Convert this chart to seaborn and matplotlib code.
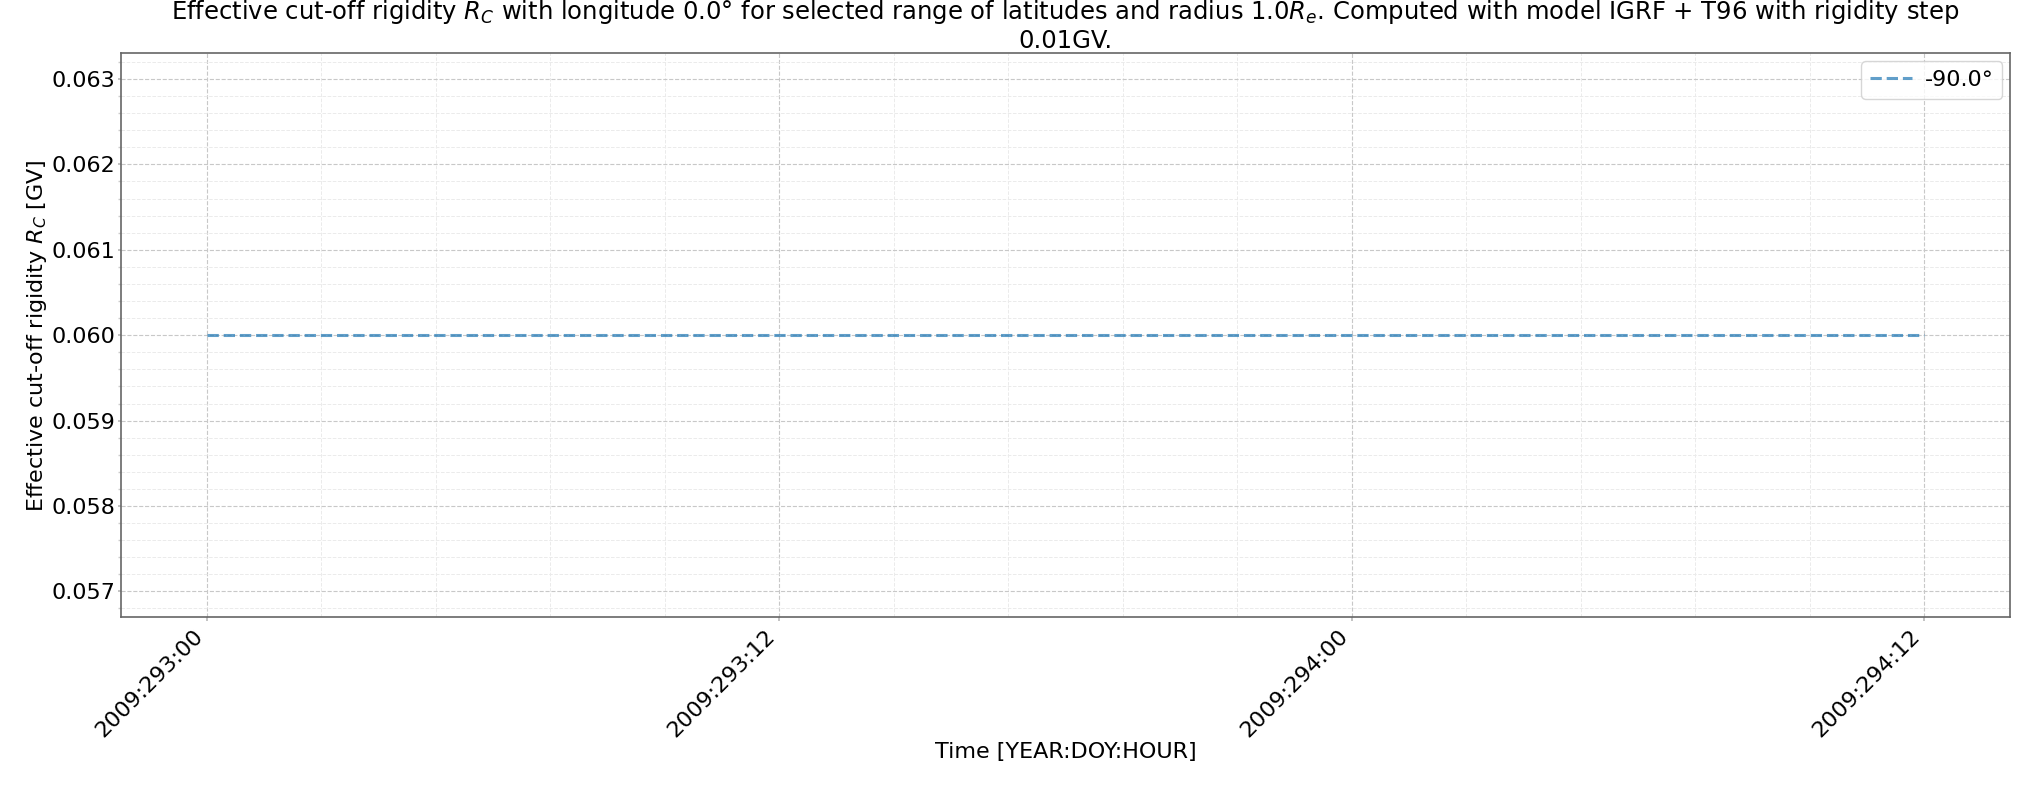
import matplotlib
matplotlib.use("Agg")
import matplotlib.pyplot as plt
import matplotlib.dates as mdates
from matplotlib.ticker import AutoMinorLocator
import seaborn as sns
import pandas as pd

# ---- data ----
start_time = "2009-10-20 00:00"   # 2009 DOY 293
hours = [0, 1, 2, 3, 4, 5, 6, 7, 8, 9, 10, 11, 12, 13, 14, 15, 16, 17, 18,
         19, 20, 21, 22, 23, 24, 25, 26, 27, 28, 29, 30, 31, 32, 33, 34, 35, 36]
rigidity = [0.06, 0.06, 0.06, 0.06, 0.06, 0.06, 0.06, 0.06, 0.06, 0.06,
            0.06, 0.06, 0.06, 0.06, 0.06, 0.06, 0.06, 0.06, 0.06, 0.06,
            0.06, 0.06, 0.06, 0.06, 0.06, 0.06, 0.06, 0.06, 0.06, 0.06,
            0.06, 0.06, 0.06, 0.06, 0.06, 0.06, 0.06]
series_label = "-90.0°"

times = pd.Timestamp(start_time) + pd.to_timedelta(hours, unit="h")
df = pd.DataFrame({"time": times, "rc": rigidity})

sns.set_theme(style="ticks")
plt.rcParams['font.family'] = ['DejaVu Sans']
plt.rcParams['text.color'] = 'black'
plt.rcParams['axes.labelcolor'] = 'black'
plt.rcParams['xtick.labelcolor'] = 'black'
plt.rcParams['ytick.labelcolor'] = 'black'

fig = plt.figure(figsize=(20.36, 7.85), dpi=100)
ax = fig.add_axes([0.0594, 0.214, 0.9278, 0.718])

sns.lineplot(data=df, x="time", y="rc", ax=ax, color="#1f77b4", alpha=0.7,
             linestyle="--", linewidth=2.2, label=series_label)

ax.xaxis.set_major_locator(mdates.HourLocator(byhour=[0, 12]))
ax.xaxis.set_major_formatter(mdates.DateFormatter("%Y:%j:%H"))
ax.xaxis.set_minor_locator(AutoMinorLocator(5))
ax.yaxis.set_minor_locator(AutoMinorLocator(5))

ax.grid(which="major", linestyle="--", color="#c8c8c8", linewidth=0.8)
ax.grid(which="minor", linestyle="--", color="#ebebeb", linewidth=0.7)
ax.set_axisbelow(True)

for s in ax.spines.values():
    s.set_color("#666666")
    s.set_linewidth(1.2)

ax.tick_params(axis="x", which="major", labelsize=16, color="#bbbbbb", length=3)
ax.tick_params(axis="y", which="major", labelsize=16, color="#bbbbbb", length=2, pad=2)
ax.tick_params(axis="y", which="minor", color="#cccccc", length=2)
ax.tick_params(axis="x", which="minor", length=0)
plt.setp(ax.get_xticklabels(), rotation=45, ha="right")

ax.set_xlabel("Time [YEAR:DOY:HOUR]", fontsize=16, labelpad=0.5)
ax.set_ylabel("Effective cut-off rigidity $R_C$ [GV]", fontsize=16, labelpad=2)
ax.set_title("Effective cut-off rigidity $R_C$ with longitude 0.0° for selected range of latitudes "
             "and radius 1.0$R_e$. Computed with model IGRF + T96 with rigidity step\n0.01GV.",
             fontsize=17.5, pad=2)

leg = ax.legend(loc="upper right", fontsize=16, frameon=True,
                borderaxespad=0.35, handletextpad=0.55, handlelength=1.9)

fig.savefig("out.png", dpi=100)
